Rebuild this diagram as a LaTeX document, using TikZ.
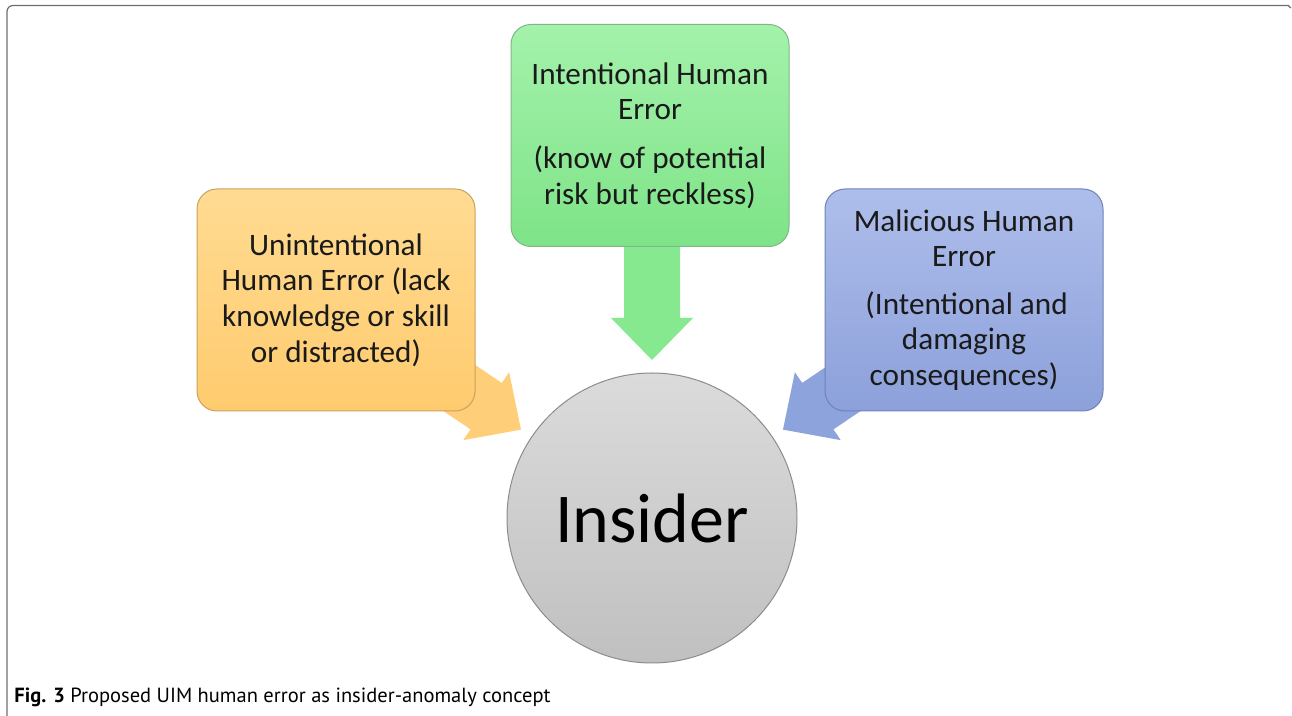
\documentclass[tikz,border=0pt]{standalone}
\usepackage{fontspec}
\setmainfont{Carlito}
\newfontfamily\capfont{PT Sans}
\usetikzlibrary{calc}
\definecolor{orTop}{HTML}{FFDB92}
\definecolor{orBot}{HTML}{FFCB6E}
\definecolor{orArr}{HTML}{FFCE78}
\definecolor{orLine}{HTML}{C9A25C}
\definecolor{grTop}{HTML}{A4F2AB}
\definecolor{grBot}{HTML}{7EE388}
\definecolor{grArr}{HTML}{87E98F}
\definecolor{grLine}{HTML}{7FB886}
\definecolor{blTop}{HTML}{AEBEEB}
\definecolor{blBot}{HTML}{8CA0DA}
\definecolor{blArr}{HTML}{8DA3DC}
\definecolor{blLine}{HTML}{7083B6}
\definecolor{ciTop}{HTML}{DBDBDB}
\definecolor{ciBot}{HTML}{C0C0C0}
\definecolor{ciLine}{HTML}{8C8C8C}
\definecolor{frameC}{HTML}{6E6E6E}
\definecolor{txt}{HTML}{1A1A1A}
\tikzset{
  errbox/.style={rectangle, rounded corners=10pt, minimum width=139pt, minimum height=111pt,
    inner sep=0pt, align=center, text=txt, line width=0.5pt,
    font=\fontsize{15.6pt}{17.8pt}\selectfont},
}
\newcommand{\blockarr}[2]{%
  \begin{scope}[shift={(ins.center)}, rotate=#1]
    \fill[#2] (158,0) -- (200,41) -- (200,28) -- (330,28) -- (330,-28) -- (200,-28) -- (200,-41) -- cycle;
  \end{scope}}
\begin{document}
\begin{tikzpicture}[x=0.5pt, y=0.5pt]
\useasboundingbox (0,0) rectangle (1292,-716);
% frame
\draw[frameC, line width=0.6pt, rounded corners=3pt] (7,-716) -- (7,-5.5) -- (1289,-5.5);
\draw[frameC, line width=0.6pt] (1288,-5.5) -- (1291,-8);
% centre circle
\node[circle, minimum size=145pt, inner sep=0pt, top color=ciTop, bottom color=ciBot,
  draw=ciLine, line width=0.5pt, text=black, font=\fontsize{35pt}{40pt}\selectfont]
  (ins) at (652,-518) {Insider};
% arrows
\blockarr{90}{grArr}
\blockarr{146}{orArr}
\blockarr{34}{blArr}
% boxes
\node[errbox, top color=orTop, bottom color=orBot, draw=orLine] (unint) at (336,-300)
  {Unintentional\\Human Error (lack\\knowledge or skill\\or distracted)};
\node[errbox, top color=grTop, bottom color=grBot, draw=grLine] (intent) at (650,-135.5)
  {Intentional Human\\Error\\[6.7pt](know of potential\\risk but reckless)};
\node[errbox, top color=blTop, bottom color=blBot, draw=blLine] (malic) at (964,-300)
  {Malicious Human\\Error\\[6pt]\,(Intentional and\\damaging\\consequences)};
% caption
\node[anchor=base west, inner sep=0pt, font=\capfont\fontsize{10.25pt}{12pt}\selectfont, text=black]
  (cap) at (14,-703) {\textbf{Fig. 3} Proposed UIM human error as insider-anomaly concept};
\end{tikzpicture}
\end{document}
